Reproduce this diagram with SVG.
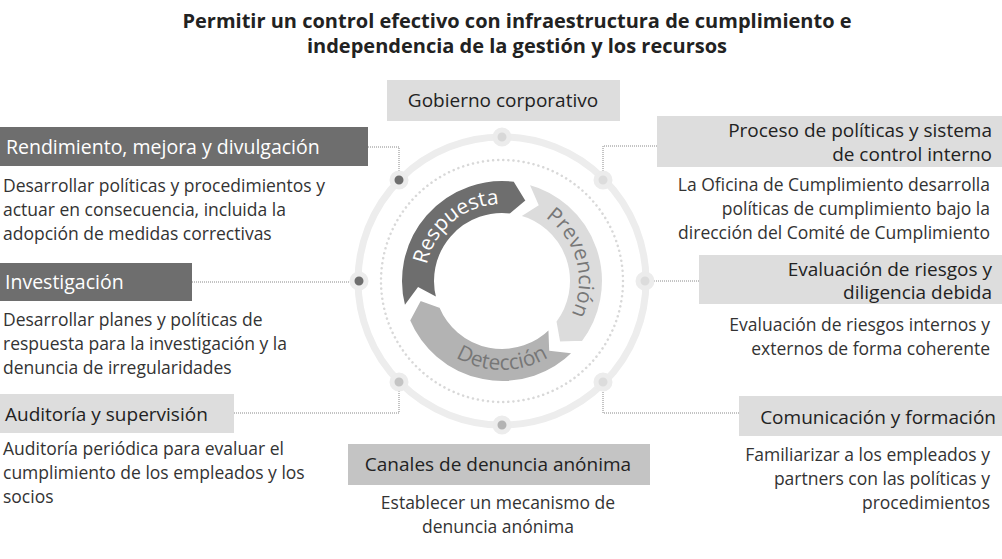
<svg xmlns="http://www.w3.org/2000/svg" width="1002" height="559" viewBox="0 0 1002 559">
<style>
text{font-family:"Open Sans",Lato,sans-serif;}
.t{font-size:20px;font-weight:bold;fill:#222;text-anchor:middle}
.h{font-size:19px;fill:#222}
.hw{font-size:19.5px;fill:#fff}
.d{font-size:17.5px;fill:#333}
.r{text-anchor:end}
.m{text-anchor:middle}
.dk{fill:#6e6e6e}
.lt{fill:#dddddd}
.md{fill:#c4c4c4}
.cn{fill:none;stroke:#888;stroke-width:1;stroke-dasharray:1 1}
.dot{stroke:#ececec;stroke-width:5}
.seg{stroke:#fff;stroke-width:2}
</style>
<defs>
<path id="arr" d="M101,0 A101,101 0 0 1 -37.8,93.6 L-44.5,71.2 L-25.1,62.1 A67,67 0 0 0 67,0 L82.7,14.6 Z"/>
<path id="pR" d="M426.2,294.4 A77,77 0 0 1 528.3,208.6"/>
<path id="pP" d="M521.9,206.6 A77,77 0 0 1 556.4,335.4"/>
<path id="pD" d="M424.1,326 A91,91 0 0 0 579.9,326"/>
</defs>
<text class="t" x="517" y="28">Permitir un control efectivo con infraestructura de cumplimiento e</text>
<text class="t" x="517" y="53">independencia de la gestión y los recursos</text>
<g id="rings">
<circle cx="502" cy="281" r="144" fill="none" stroke="#ededed" stroke-width="7"/>
<circle cx="502" cy="281" r="121" fill="none" stroke="#d8d8d8" stroke-width="2.5" stroke-dasharray="0.1 5" stroke-linecap="round"/>
</g>
<g id="cycle">
<use href="#arr" class="seg" fill="#6e6e6e" transform="translate(502,281) rotate(165)"/>
<use href="#arr" class="seg" fill="#dcdcdc" transform="translate(502,281) rotate(285)"/>
<use href="#arr" class="seg" fill="#b3b3b3" transform="translate(502,281) rotate(45)"/>
<text font-size="21" fill="#fff"><textPath href="#pR" startOffset="50%" text-anchor="middle">Respuesta</textPath></text>
<text font-size="21" fill="#777"><textPath href="#pP" startOffset="50%" text-anchor="middle">Prevención</textPath></text>
<text font-size="21" fill="#777"><textPath href="#pD" startOffset="50%" text-anchor="middle">Detección</textPath></text>
</g>
<g id="connectors">
<polyline class="cn" points="368,147 399,147 399,180"/>
<polyline class="cn" points="192,282 359,282"/>
<polyline class="cn" points="234,413 399,413 399,382"/>
<polyline class="cn" points="657,146 603,146 603,180"/>
<polyline class="cn" points="699,281 645,281"/>
<polyline class="cn" points="739,413 603,413 603,382"/>
</g>
<g id="dots">
<circle class="dot" cx="502" cy="137" r="7" fill="#d8d8d8"/>
<circle class="dot" cx="399" cy="180" r="7" fill="#6e6e6e"/>
<circle class="dot" cx="603" cy="180" r="7" fill="#dcdcdc"/>
<circle class="dot" cx="359" cy="281" r="7" fill="#6e6e6e"/>
<circle class="dot" cx="645" cy="281" r="7" fill="#dcdcdc"/>
<circle class="dot" cx="399" cy="382" r="7" fill="#c4c4c4"/>
<circle class="dot" cx="603" cy="382" r="7" fill="#dcdcdc"/>
<circle class="dot" cx="502" cy="425" r="7" fill="#b3b3b3"/>
</g>
<g id="gobierno">
<rect class="lt" x="387" y="80" width="233" height="41"/>
<text class="h m" x="503" y="107">Gobierno corporativo</text>
</g>
<g id="rendimiento">
<rect class="dk" x="0" y="127" width="368" height="39"/>
<text class="hw" x="6" y="154">Rendimiento, mejora y divulgación</text>
<text class="d" x="3" y="192">Desarrollar políticas y procedimientos y</text>
<text class="d" x="3" y="216">actuar en consecuencia, incluida la</text>
<text class="d" x="3" y="240">adopción de medidas correctivas</text>
</g>
<g id="investigacion">
<rect class="dk" x="0" y="263" width="192" height="38"/>
<text class="hw" x="5" y="289">Investigación</text>
<text class="d" x="3" y="326">Desarrollar planes y políticas de</text>
<text class="d" x="3" y="350">respuesta para la investigación y la</text>
<text class="d" x="3" y="374">denuncia de irregularidades</text>
</g>
<g id="auditoria">
<rect class="lt" x="0" y="394" width="234" height="39"/>
<text class="h" x="5" y="421">Auditoría y supervisión</text>
<text class="d" x="3" y="455">Auditoría periódica para evaluar el</text>
<text class="d" x="3" y="479">cumplimiento de los empleados y los</text>
<text class="d" x="3" y="503">socios</text>
</g>
<g id="canales">
<rect class="md" x="348" y="444" width="302" height="41"/>
<text class="h m" x="498" y="471">Canales de denuncia anónima</text>
<text class="d m" x="498" y="509">Establecer un mecanismo de</text>
<text class="d m" x="498" y="533">denuncia anónima</text>
</g>
<g id="proceso">
<rect class="lt" x="657" y="116" width="345" height="51"/>
<text class="h r" x="992" y="137">Proceso de políticas y sistema</text>
<text class="h r" x="992" y="161">de control interno</text>
<text class="d r" x="990" y="191">La Oficina de Cumplimiento desarrolla</text>
<text class="d r" x="990" y="215">políticas de cumplimiento bajo la</text>
<text class="d r" x="990" y="239">dirección del Comité de Cumplimiento</text>
</g>
<g id="evaluacion">
<rect class="lt" x="699" y="255" width="303" height="49"/>
<text class="h r" x="992" y="276">Evaluación de riesgos y</text>
<text class="h r" x="992" y="299">diligencia debida</text>
<text class="d r" x="990" y="331">Evaluación de riesgos internos y</text>
<text class="d r" x="990" y="355">externos de forma coherente</text>
</g>
<g id="comunicacion">
<rect class="lt" x="739" y="396" width="263" height="40"/>
<text class="h r" x="996" y="424">Comunicación y formación</text>
<text class="d r" x="990" y="461">Familiarizar a los empleados y</text>
<text class="d r" x="990" y="485">partners con las políticas y</text>
<text class="d r" x="990" y="509">procedimientos</text>
</g>
</svg>
